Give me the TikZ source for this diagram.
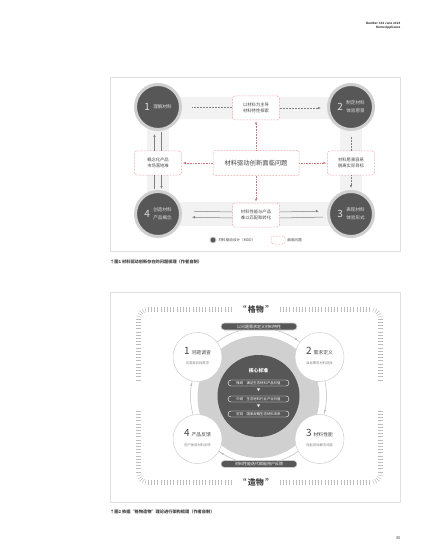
\documentclass[tikz,border=0pt]{standalone}
\usepackage{fontspec}
\setmainfont{Noto Sans CJK SC}
\usetikzlibrary{arrows.meta,positioning,calc,decorations.markings}
\definecolor{ink}{HTML}{575757}
\definecolor{ring}{HTML}{CFCFCF}
\definecolor{band}{HTML}{F2F2F2}
\definecolor{issue}{HTML}{D9737A}
\definecolor{frame}{HTML}{E0E0E0}
\definecolor{tickc}{HTML}{BDBDBD}
\definecolor{txt}{HTML}{444444}
\definecolor{halo}{HTML}{D0D0D0}
\newcommand{\stagetext}[2]{$\vcenter{\hbox{\fontsize{10}{10}\selectfont #1}}$\hspace{3.5pt}$\vcenter{\hbox{\fontsize{4.6}{7.6}\selectfont\begin{tabular}{@{}l@{}}#2\end{tabular}}}$}
\newcommand{\stepcircle}[3]{\begin{tabular}{@{}c@{}}{\fontsize{10}{10}\selectfont #1}\hspace{2pt}{\fontsize{4.8}{6}\selectfont #2}\\[-2.5pt]{\fontsize{3.3}{4}\selectfont\color{gray}#3}\end{tabular}}

\begin{document}
\begin{tikzpicture}[x=1pt,y=-1pt,
  mdd/.style={circle,fill=ink,draw=ring,line width=3pt,minimum size=45pt,inner sep=0pt,text=white!88!black},
  issuebox/.style={draw=issue,densely dotted,line width=0.5pt,rounded corners=2.5pt,fill=white,align=center,
    minimum width=47pt,minimum height=24pt,inner sep=1pt,text=txt,font=\fontsize{4.3}{6.6}\selectfont},
  dotline/.style={gray,densely dotted,line width=0.5pt},
  issueline/.style={issue,densely dotted,line width=0.6pt},
  flow/.style={gray,line width=0.5pt},
  tip/.style={-{Latex[length=3pt,width=2.4pt]}},
  tick/.style={tickc,line width=0.45pt},
  stage/.style={circle,fill=white,draw=ring,line width=0.5pt,minimum size=49pt,inner sep=0pt,text=txt},
  pill/.style={rounded corners=3.5pt,fill=ink,draw=ring,line width=0.6pt,text=white,minimum width=76pt,
    minimum height=7pt,inner sep=0.5pt,font=\fontsize{4}{5}\selectfont},
  level/.style={rounded corners=3pt,draw=white,line width=0.4pt,text=white,minimum width=61pt,
    minimum height=6pt,inner sep=0.5pt,font=\fontsize{3.4}{4}\selectfont},
  cyc/.style={tickc,line width=0.5pt}]
\useasboundingbox (0,0) rectangle (427,548);
\fill[white] (0,0) rectangle (427,548);

% header and page number
\node[anchor=east,font=\bfseries\fontsize{3}{3.6}\selectfont,align=right,text=txt] (head) at (404,25.5)
  {Number 334 June 2023\\Home Appliance};
\node[font=\fontsize{4}{5}\selectfont,text=txt] (pageno) at (398,538) {45};

% ---------- figure 1 ----------
\draw[frame,line width=0.8pt] (110,77) rectangle (400,251);
% bands
\fill[band] (158,97) rectangle (351,119);
\fill[band] (147,107) rectangle (169,214);
\fill[band] (340,107) rectangle (362,214);
\fill[band] (158,202) rectangle (351,226);
% stages
\node[mdd] (c1) at (158,107) {\stagetext{1}{理解材料}};
\node[mdd] (c2) at (351,107) {\stagetext{2}{制定材料\\体验愿景}};
\node[mdd] (c3) at (351,214) {\stagetext{3}{表现材料\\体验形式}};
\node[mdd] (c4) at (158,214) {\stagetext{4}{创造材料\\产品概念}};
% problems
\node[issuebox] (top) at (256,108) {以材料为主导\\材料特性探索};
\node[issuebox,minimum width=86pt,minimum height=25pt,font=\fontsize{6.3}{8}\selectfont] (core) at (256,163) {材料驱动创新面临问题};
\node[issuebox] (lbox) at (158,163) {概念化产品\\市场落地难};
\node[issuebox] (rbox) at (351,163) {材料愿景容易\\脱离实际目标};
\node[issuebox] (bbox) at (256,215) {材料性能与产品\\难以匹配和转化};
% connectors
\draw[dotline,shorten <=10pt] (c1.east) -- (c1.east -| top.west);
\draw[dotline,tip,shorten >=6pt] (top.east) -- (top.east -| c2.west);
\draw[issueline,tip,shorten >=1pt] (core.north) -- (top.south);
\draw[issueline,tip,shorten >=1pt] (core.west) -- (lbox.east);
\draw[issueline,tip,shorten >=1pt] (core.east) -- (rbox.west);
\draw[issueline,tip,shorten >=1pt] (core.south) -- (bbox.north);
\draw[flow,tip,shorten >=3pt] ([xshift=-3.5pt]lbox.north) -- ([xshift=-3.5pt]c1.south);
\draw[flow,shorten <=1pt] ([xshift=3.5pt]c1.south) -- ([xshift=3.5pt]lbox.north);
\draw[flow,shorten <=1pt] ([xshift=-3.5pt]c4.north) -- ([xshift=-3.5pt]lbox.south);
\draw[flow,tip,shorten >=1pt] ([xshift=3.5pt]lbox.south) -- ([xshift=3.5pt]c4.north);
\draw[dotline,shorten <=6pt] (c2.south) -- (rbox.north);
\draw[dotline,tip,shorten >=2pt] (rbox.south) -- (c3.north);
\draw[flow,shorten <=12pt] ([yshift=3pt]c4.east) -- ([yshift=3pt]bbox.west);
\draw[flow,tip,shorten >=8pt] ([yshift=3pt]bbox.east) -- ([yshift=3pt]c3.west);
\draw[flow,shorten <=4pt] ([yshift=-3pt]c3.west) -- ([yshift=-3pt]bbox.east);
\draw[flow,tip,shorten >=10pt] ([yshift=-3pt]bbox.west) -- ([yshift=-3pt]c4.east);
% legend
\node[circle,fill=ink,draw=ring,line width=0.8pt,minimum size=6pt,inner sep=0pt] (legdot) at (213,240) {};
\node[right=2pt of legdot,font=\fontsize{3.6}{4}\selectfont,text=txt,inner sep=0pt] (legmdd) {材料驱动设计（MDD）};
\node[issuebox,minimum width=14pt,minimum height=8pt] (legbox) at (278,240) {};
\node[right=2pt of legbox,font=\fontsize{3.6}{4}\selectfont,text=txt,inner sep=0pt] (legissue) {面临问题};
\node[anchor=west,font=\bfseries\fontsize{4.2}{5}\selectfont,text=txt,inner sep=0pt] (cap1) at (110,262)
  {↑图1 材料驱动创新存在的问题梳理（作者自制）};

% ---------- figure 2 ----------
\draw[frame,line width=0.8pt] (110,292) rectangle (400,502);
% tick border
\foreach \x in {148,151.2,...,234} {\draw[tick] (\x,307) -- (\x,312); \draw[tick] (\x,480) -- (\x,485);}
\foreach \x in {280,283.2,...,371} {\draw[tick] (\x,307) -- (\x,312); \draw[tick] (\x,480) -- (\x,485);}
\foreach \y in {319,322.2,...,381} {\draw[tick] (136,\y) -- (141,\y); \draw[tick] (378,\y) -- (383,\y);}
\foreach \y in {411,414.2,...,473} {\draw[tick] (136,\y) -- (141,\y); \draw[tick] (378,\y) -- (383,\y);}
\foreach \cx/\cy/\a in {148/319/180, 371/319/270, 371/473/0, 148/473/90}
  \foreach \t in {15,30,...,75} \draw[tick] ($(\cx,\cy)+({\a+\t}:7)$) -- ($(\cx,\cy)+({\a+\t}:12)$);
\node[font=\bfseries\fontsize{8}{9}\selectfont,text=txt] (gewu) at (256,309.5) {“\,格物\,”};
\node[font=\bfseries\fontsize{8}{9}\selectfont,text=txt] (zaowu) at (256,482.5) {“\,造物\,”};
% cycle
\draw[cyc,postaction={decorate},decoration={markings,
  mark=at position 0.040 with {\arrow{Latex[length=3pt,width=2.4pt]}},
  mark=at position 0.344 with {\arrow{Latex[length=3pt,width=2.4pt]}},
  mark=at position 0.531 with {\arrow{Latex[length=3pt,width=2.4pt]}},
  mark=at position 0.848 with {\arrow{Latex[length=3pt,width=2.4pt]}}}] (258.5,396) circle (68);
\fill[halo] (258.5,397) circle (61);
\node[circle,fill=ink,minimum size=82pt,inner sep=0pt] (hub) at (258.5,396) {};
\node[font=\bfseries\fontsize{4.8}{5}\selectfont,text=white] (hubtitle) at (258.5,371) {核心标准};
\node[level] (micro) at (258.5,383) {微观\quad 满足生态材料产品价值};
\node[level] (meso) at (258.5,399) {中观\quad 生态材料行业产业价值};
\node[level] (macro) at (258.5,414) {宏观\quad 国家战略生态材料未来};
\node[text=white,font=\fontsize{3.5}{4}\selectfont,inner sep=0pt] (down1) at (258.5,390.5) {▼};
\node[text=white,font=\fontsize{3.5}{4}\selectfont,inner sep=0pt] (down2) at (258.5,406) {▼};
% steps
\node[stage] (s1) at (197.5,357) {\stepcircle{1}{问题调查}{问题导向找需求}};
\node[stage] (s2) at (319.5,357) {\stepcircle{2}{需求定义}{目标需求材料选择}};
\node[stage] (s3) at (319.5,439) {\stepcircle{3}{材料性能}{性能测试解决问题}};
\node[stage] (s4) at (197.5,439) {\stepcircle{4}{产品反馈}{用户体验材料反馈}};
\node[pill] (ask) at (259,326.5) {以问题需求定义材料特性};
\node[pill] (feed) at (259,464) {材料性能迭代赋能用户反馈};
\node[anchor=west,font=\bfseries\fontsize{4.2}{5}\selectfont,text=txt,inner sep=0pt] (cap2) at (110,512)
  {↑图2 依据“格物造物”理论进行架构梳理（作者自制）};
\end{tikzpicture}
\end{document}
